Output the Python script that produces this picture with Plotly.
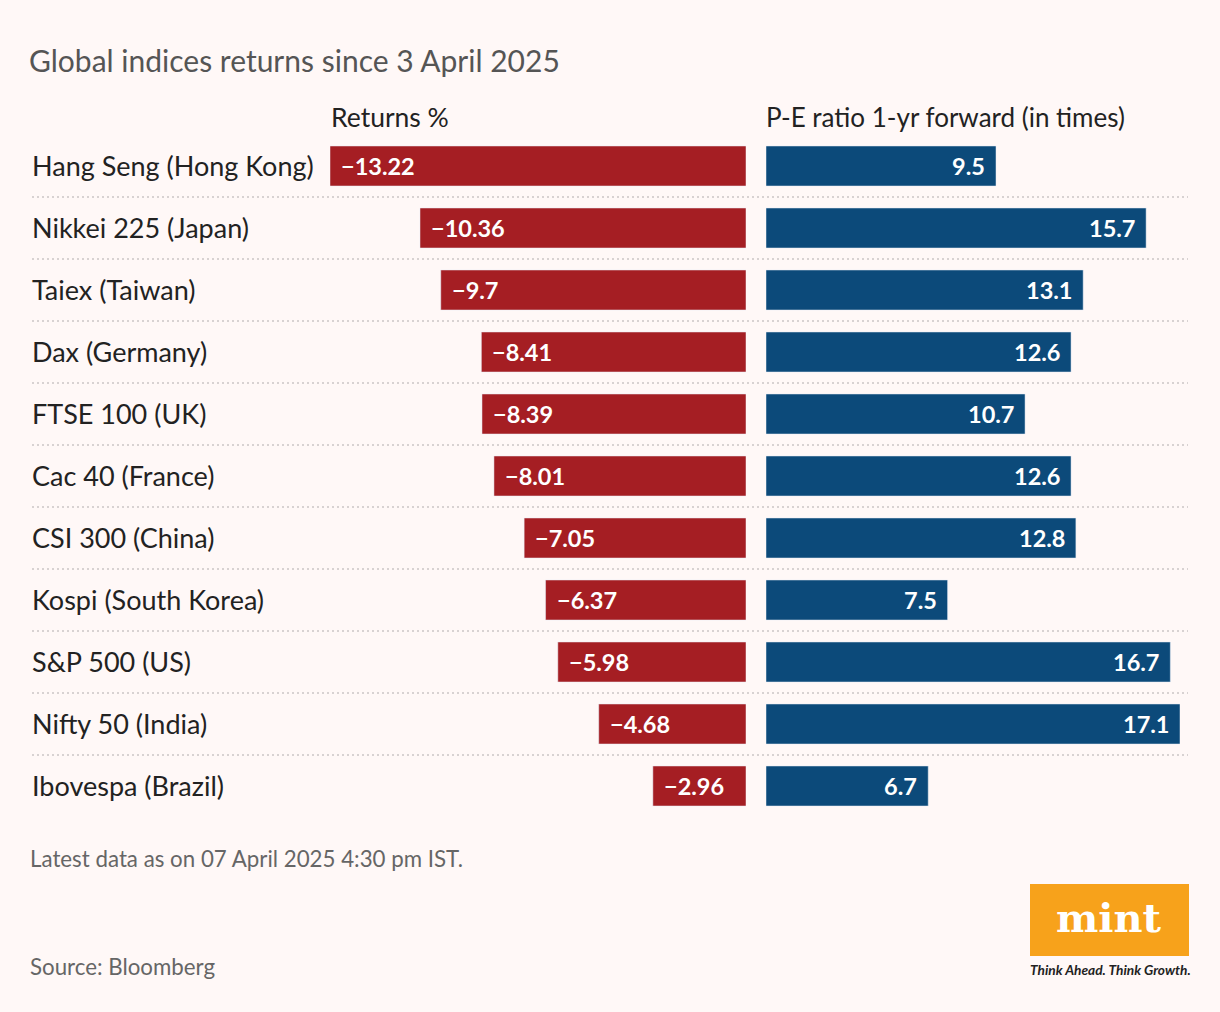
import plotly.graph_objects as go

# ---- data ----
indices = ["Hang Seng (Hong Kong)", "Nikkei 225 (Japan)", "Taiex (Taiwan)", "Dax (Germany)",
           "FTSE 100 (UK)", "Cac 40 (France)", "CSI 300 (China)", "Kospi (South Korea)",
           "S&P 500 (US)", "Nifty 50 (India)", "Ibovespa (Brazil)"]
returns_pct = [-13.22, -10.36, -9.7, -8.41, -8.39, -8.01, -7.05, -6.37, -5.98, -4.68, -2.96]
pe_forward = [9.5, 15.7, 13.1, 12.6, 10.7, 12.6, 12.8, 7.5, 16.7, 17.1, 6.7]

W, H = 1220, 1012
BG = "#FFF8F7"
RED = "#A51E23"
BLUE = "#0C4A7A"
FONT = "Lato"

rows = list(range(len(indices)))
row0_px, pitch_px, bar_px = 166, 62, 40
y_top = -row0_px / pitch_px
y_bot = (H - row0_px) / pitch_px

fig = go.Figure()
fig.add_trace(go.Bar(y=rows, x=returns_pct, orientation="h", marker_color=RED,
                     width=bar_px / pitch_px, xaxis="x", yaxis="y", hoverinfo="skip"))
fig.add_trace(go.Bar(y=rows, x=pe_forward, orientation="h", marker_color=BLUE,
                     width=bar_px / pitch_px, xaxis="x2", yaxis="y", hoverinfo="skip"))

ann = []
shapes = []
for i, name in enumerate(indices):
    ann.append(dict(x=30 / W, xref="paper", y=i, yref="y", text=name, showarrow=False,
                    xanchor="left", yanchor="middle", yshift=1,
                    font=dict(family=FONT, size=27, color="#222222")))
    r = returns_pct[i]
    ann.append(dict(x=r, xref="x", y=i, yref="y", text=f"{r:g}".replace("-", "\u2212"),
                    showarrow=False, xanchor="left", yanchor="middle", xshift=9,
                    font=dict(family=FONT, size=23.5, color="white", weight="bold")))
    p = pe_forward[i]
    ann.append(dict(x=p, xref="x2", y=i, yref="y", text=f"{p:g}",
                    showarrow=False, xanchor="right", yanchor="middle", xshift=-9,
                    font=dict(family=FONT, size=23.5, color="white", weight="bold")))
    if i < len(indices) - 1:
        shapes.append(dict(type="line", xref="paper", yref="y", x0=32 / W, x1=1188 / W,
                           y0=i + 0.5, y1=i + 0.5,
                           line=dict(color="#D8D2D2", width=2, dash="2px,3px")))

def pt(x, y):
    return x / W, 1 - y / H

# titles and headers
for txt, x, y, size, color in [
    ("Global indices returns since 3 April 2025", 27, 60, 30, "#555555"),
    ("Returns %", 329, 117, 26.5, "#222222"),
    ("P-E ratio 1-yr forward (in times)", 764, 117, 26, "#222222"),
    ("Latest data as on 07 April 2025 4:30 pm IST.", 28, 858, 22.3, "#666666"),
    ("Source: Bloomberg", 28, 966, 22.3, "#666666"),
]:
    px, py = pt(x, y)
    ann.append(dict(x=px, y=py, xref="paper", yref="paper", text=txt, showarrow=False,
                    xanchor="left", yanchor="middle",
                    font=dict(family=FONT, size=size, color=color)))

# logo
x0, y0 = pt(1030, 884)
x1, y1 = pt(1189, 956)
shapes.append(dict(type="rect", xref="paper", yref="paper", x0=x0, x1=x1, y0=y1, y1=y0,
                   fillcolor="#F7A21B", line=dict(width=0)))
px, py = pt(1109, 917)
ann.append(dict(x=px, y=py, xref="paper", yref="paper", text="<b>mint</b>", showarrow=False,
                xanchor="center", yanchor="middle",
                font=dict(family="DejaVu Serif", size=40, color="white")))
px, py = pt(1110, 969)
ann.append(dict(x=px, y=py, xref="paper", yref="paper", text="<b><i>Think Ahead. Think Growth.</i></b>",
                showarrow=False, xanchor="center", yanchor="middle",
                font=dict(family=FONT, size=13.7, color="#222222")))

fig.update_layout(
    width=W, height=H, margin=dict(l=0, r=0, t=0, b=0),
    paper_bgcolor=BG, plot_bgcolor=BG, showlegend=False, barmode="overlay",
    xaxis=dict(domain=[330 / W, 746 / W], range=[-13.22, 0], visible=False, fixedrange=True),
    xaxis2=dict(domain=[766 / W, 1180 / W], range=[0, 17.1], visible=False, anchor="y", fixedrange=True),
    yaxis=dict(domain=[0, 1], range=[y_bot, y_top], visible=False, fixedrange=True),
    annotations=ann, shapes=shapes,
)
fig.write_html("out.html", config={"displayModeBar": False},
               post_script="document.body.style.margin='0';document.body.style.overflow='hidden';")
